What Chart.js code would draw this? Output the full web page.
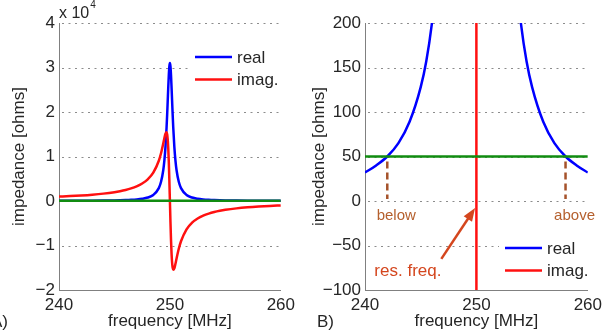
<!DOCTYPE html>
<html>
<head>
<meta charset="utf-8">
<script src="https://cdn.jsdelivr.net/npm/chart.js@4/dist/chart.umd.min.js"></script>
<style>
  html, body { margin: 0; padding: 0; background: #fff; }
  #wrap { position: relative; width: 607px; height: 335px; overflow: hidden; }
  canvas { position: absolute; top: 0; }
  #chartA { left: 0; }
  #chartB { left: 300px; }
</style>
</head>
<body>
<div id="wrap">
  <canvas id="chartA" width="300" height="335"></canvas>
  <canvas id="chartB" width="307" height="335"></canvas>
</div>
<script>
// frequency samples [MHz], shared by both panels
const freq = [240, 241, 242, 243, 244, 245, 245.5, 246, 246.5, 247, 247.5, 248, 248.5, 249,
  249.2, 249.4, 249.5, 249.6, 249.7, 249.75, 249.8, 249.85, 249.9, 249.95, 250,
  250.05, 250.1, 250.15, 250.2, 250.25, 250.3, 250.4, 250.5, 250.6, 250.8, 251,
  251.5, 252, 252.5, 253, 253.5, 254, 254.5, 255, 256, 257, 258, 259, 260];

// impedance [ohms]
const realOhms = [32, 40, 50, 65, 89, 128, 157, 199, 259, 352, 505, 781, 1362, 2905,
  4312, 6917, 9070, 12166, 16578, 19321, 22352, 25460, 28266, 30268, 31000,
  30268, 28266, 25460, 22352, 19321, 16578, 12166, 9070, 6917, 4312, 2905,
  1362, 781, 505, 352, 259, 199, 157, 128, 89, 65, 50, 40, 32];

const imagOhms = [996, 1106, 1244, 1421, 1657, 1985, 2204, 2475, 2824, 3285, 3922, 4858, 6354, 9035,
  10727, 12906, 14103, 15135, 15467, 15022, 13903, 11877, 8791, 4707, 0,
  -4707, -8791, -11877, -13903, -15022, -15467, -15135, -14103, -12906, -10727, -9035,
  -6354, -4858, -3922, -3285, -2824, -2475, -2204, -1985, -1657, -1421, -1244, -1106, -996];

// 50 ohm reference line
const matchFreq = [240, 260];
const matchOhms = [50, 50];

// axis ticks
const xTicks = [240, 250, 260];
const yTicksA = [-20000, -10000, 0, 10000, 20000, 30000, 40000];
const yTicksB = [-100, -50, 0, 50, 100, 150, 200];

// annotations in panel B
const markerFreqs = [242, 258];
const markerLabels = ['below', 'above'];
const resFreq = 250;

const FONT = '"Liberation Sans", Arial, Helvetica, sans-serif';
const TEXT = '#262626';
Chart.defaults.font.family = FONT;
Chart.defaults.color = TEXT;

function pts(xs, ys) {
  return xs.map((x, i) => ({ x: x, y: ys[i] }));
}

function fmt(v) {
  return String(v).replace('-', '\u2212');
}

function datasets() {
  return [
    { label: 'real', data: pts(freq, realOhms), borderColor: '#0000ff', borderWidth: 2.5,
      pointRadius: 0, cubicInterpolationMode: 'monotone', order: 2 },
    { label: 'imag.', data: pts(freq, imagOhms), borderColor: '#ff1010', borderWidth: 2.5,
      pointRadius: 0, cubicInterpolationMode: 'monotone', order: 1 },
    { label: '', data: pts(matchFreq, matchOhms), borderColor: '#118c11', borderWidth: 2.5,
      pointRadius: 0, order: 0 }
  ];
}

// dotted horizontal grid, legend, exponent, panel letter and annotations
const decor = {
  id: 'decor',
  beforeDatasetsDraw(chart) {
    const c = chart.ctx, a = chart.chartArea;
    c.save();
    c.strokeStyle = '#8c8c8c';
    c.lineWidth = 1;
    c.setLineDash([2, 4.5]);
    chart.scales.y.ticks.forEach(t => {
      const y = Math.round(chart.scales.y.getPixelForValue(t.value)) + 0.5;
      if (y > a.bottom - 1) return;
      c.beginPath();
      c.moveTo(a.left + 3, y);
      c.lineTo(a.right, y);
      c.stroke();
    });
    c.restore();
  },
  afterDraw(chart, args, opts) {
    const c = chart.ctx;
    const xs = chart.scales.x, ys = chart.scales.y;
    c.save();

    // legend (white box hides the grid behind it)
    c.fillStyle = '#fff';
    c.fillRect(opts.legendX - 6, opts.legendY - 13, chart.chartArea.right - opts.legendX + 5, 49);
    chart.data.datasets.forEach((ds, i) => {
      if (!ds.label) return;
      const y = opts.legendY + i * 22.5;
      c.strokeStyle = ds.borderColor;
      c.lineWidth = 2.5;
      c.beginPath();
      c.moveTo(opts.legendX, y);
      c.lineTo(opts.legendX + 37, y);
      c.stroke();
      c.fillStyle = TEXT;
      c.font = '17px ' + FONT;
      c.textAlign = 'left';
      c.textBaseline = 'middle';
      c.fillText(ds.label, opts.legendX + 42, y + 1);
    });

    // panel letter
    c.fillStyle = TEXT;
    c.font = '17px ' + FONT;
    c.textAlign = 'left';
    c.textBaseline = 'alphabetic';
    c.fillText(opts.letter, opts.letterX, 327);

    if (opts.exponent) {
      c.font = '16px ' + FONT;
      c.fillText('x 10', chart.chartArea.left, 18);
      const w = c.measureText('x 10').width;
      c.font = '10px ' + FONT;
      c.fillText('4', chart.chartArea.left + w + 1, 8);
    }

    if (opts.annotate) {
      const y0 = ys.getPixelForValue(0);
      const y50 = ys.getPixelForValue(50);
      c.strokeStyle = '#a5522a';
      c.lineWidth = 2.5;
      markerFreqs.forEach((f, i) => {
        const x = xs.getPixelForValue(f);
        c.setLineDash([7, 4]);
        c.beginPath();
        c.moveTo(x, y50 + 5);
        c.lineTo(x, y0 - 2);
        c.stroke();
        c.fillStyle = '#b5602e';
        c.font = '15px ' + FONT;
        c.textAlign = 'center';
        c.textBaseline = 'middle';
        c.fillText(markerLabels[i], x + 9, y0 + 15);
      });
      c.setLineDash([]);

      // arrow to resonance
      const tx = xs.getPixelForValue(resFreq - 0.12), ty = ys.getPixelForValue(-8);
      const sx = xs.getPixelForValue(246.85), sy = ys.getPixelForValue(-65);
      const ang = Math.atan2(ty - sy, tx - sx);
      c.strokeStyle = '#d4461e';
      c.fillStyle = '#d4461e';
      c.lineWidth = 2.5;
      c.beginPath();
      c.moveTo(sx, sy);
      c.lineTo(tx - 8 * Math.cos(ang), ty - 8 * Math.sin(ang));
      c.stroke();
      c.beginPath();
      c.moveTo(tx, ty);
      c.lineTo(tx - 13 * Math.cos(ang) + 5 * Math.sin(ang), ty - 13 * Math.sin(ang) - 5 * Math.cos(ang));
      c.lineTo(tx - 13 * Math.cos(ang) - 5 * Math.sin(ang), ty - 13 * Math.sin(ang) + 5 * Math.cos(ang));
      c.closePath();
      c.fill();
      c.font = '17px ' + FONT;
      c.textAlign = 'center';
      c.textBaseline = 'middle';
      c.fillText('res. freq.', xs.getPixelForValue(243.85), ys.getPixelForValue(-79));
    }
    c.restore();
  }
};

function makeChart(id, yTicks, yLabel, yWidth, padRight, decorOpts) {
  return new Chart(document.getElementById(id), {
    type: 'line',
    data: { datasets: datasets() },
    plugins: [decor],
    options: {
      responsive: false,
      animation: false,
      layout: { padding: { left: 9, right: padRight, top: 23, bottom: 3 } },
      plugins: {
        legend: { display: false },
        tooltip: { enabled: false },
        decor: decorOpts
      },
      scales: {
        x: {
          type: 'linear',
          min: xTicks[0],
          max: xTicks[xTicks.length - 1],
          afterBuildTicks: s => { s.ticks = xTicks.map(v => ({ value: v })); },
          afterFit: s => { s.height = 42; },
          grid: { display: false, drawTicks: false },
          border: { display: true, color: '#808080', width: 1 },
          ticks: { padding: 5, font: { size: 17 }, color: TEXT, maxRotation: 0 },
          title: { display: true, text: 'frequency [MHz]', font: { size: 17 }, color: TEXT,
                   padding: { top: 0, bottom: 0 } }
        },
        y: {
          min: yTicks[0],
          max: yTicks[yTicks.length - 1],
          afterBuildTicks: s => { s.ticks = yTicks.map(v => ({ value: v })); },
          afterFit: s => { s.width = yWidth; },
          grid: { display: false, drawTicks: false },
          border: { display: true, color: '#808080', width: 1 },
          ticks: { padding: 4, font: { size: 17 }, color: TEXT, callback: yLabel },
          title: { display: true, text: 'impedance [ohms]', font: { size: 17 }, color: TEXT,
                   padding: { top: 0, bottom: 0 } }
        }
      }
    }
  });
}

makeChart('chartA', yTicksA, v => fmt(v / 10000), 50, 16,
  { legendX: 195, legendY: 57, letter: 'A)', letterX: -9, exponent: true });
makeChart('chartB', yTicksB, v => fmt(v), 56, 18,
  { legendX: 205, legendY: 248, letter: 'B)', letterX: 17, annotate: true });
</script>
</body>
</html>
